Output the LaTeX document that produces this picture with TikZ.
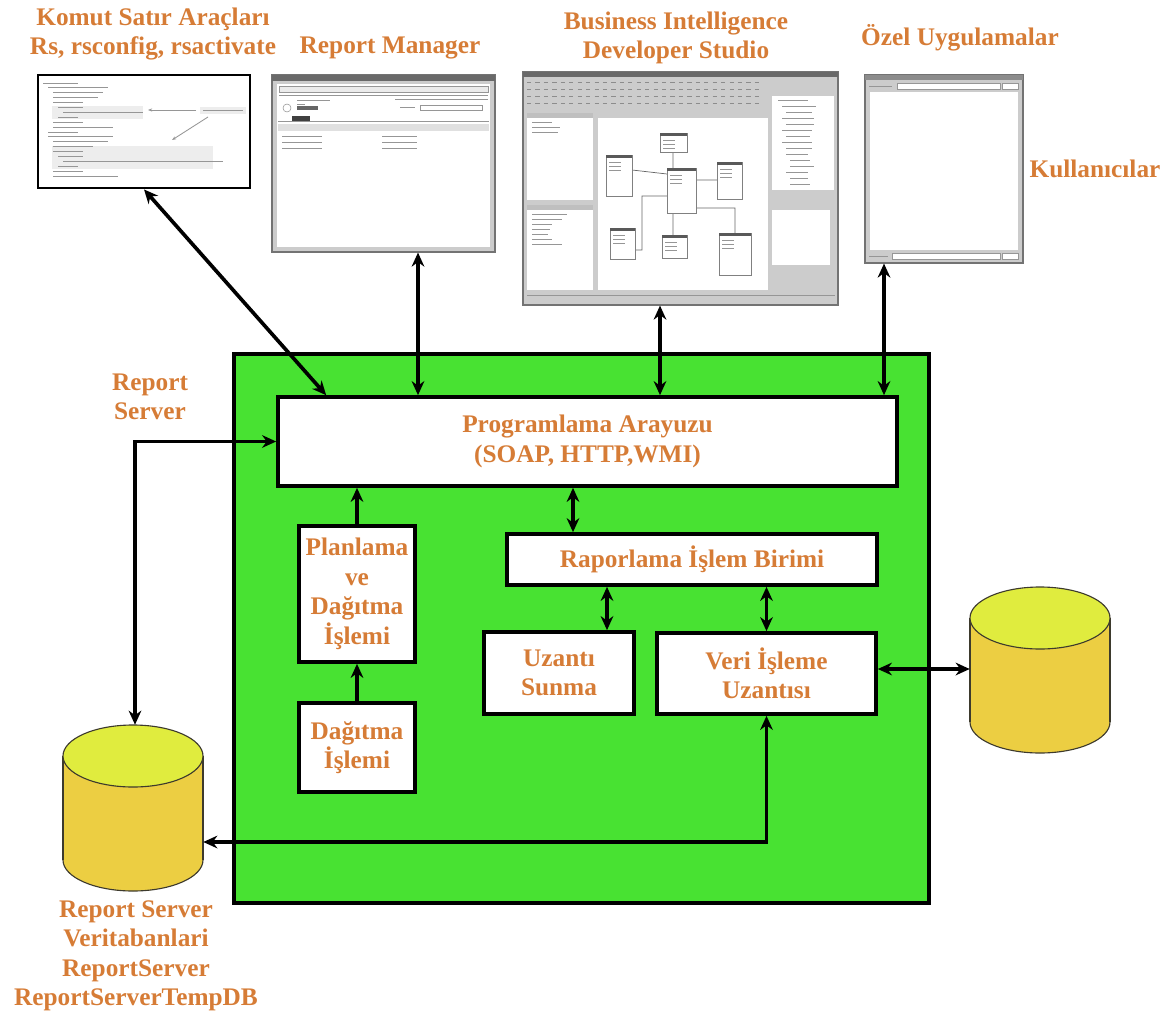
\documentclass[tikz,border=0pt]{standalone}
\usepackage{fontspec}
\setmainfont{Liberation Serif}
\usetikzlibrary{arrows.meta,fit,calc}

\definecolor{turuncu}{RGB}{214,124,54}
\definecolor{yesil}{RGB}{72,226,50}
\definecolor{kapak}{RGB}{224,236,62}
\definecolor{govde}{RGB}{236,206,66}
\definecolor{pencere}{RGB}{204,204,204}
\definecolor{baslik}{RGB}{105,105,105}
\definecolor{satir}{RGB}{150,150,150}

\tikzset{
        etiket/.style={text=turuncu, font=\bfseries\fontsize{18}{21}\selectfont, align=center},
        boyut/.style 2 args={minimum width=#1*0.025cm, minimum height=#2*0.025cm},
        kutu/.style={draw, fill=white, line width=2.6pt, inner sep=0pt, etiket},
        ekran/.style={draw=black!55, fill=pencere, line width=0.8pt, inner sep=0pt},
        ok/.style={line width=2.6pt, >={Stealth[length=10pt,width=9pt]}},
        tablo/.style={draw=black!50, fill=white, line width=0.5pt}
}

\begin{document}
\begin{tikzpicture}[x=0.025cm, y=-0.025cm]

        \useasboundingbox (0,0) rectangle (1171,1019);

        \node [fit={(234,354) (929,903)}, draw, fill=yesil, line width=2.6pt, inner sep=0pt] (rs) {};

        \node [kutu, boyut={619}{89}] (api) at (587.5,441.5) {Programlama Arayuzu\\(SOAP, HTTP,WMI)};
        \node [kutu, boyut={116}{136}] (planlama) at (357,594) {Planlama\\ve\\Dağıtma\\İşlemi};
        \node [kutu, boyut={116}{89}] (dagitma) at (357,747.5) {Dağıtma\\İşlemi};
        \node [kutu, boyut={370}{51}] (raporlama) at (692,559.5) {Raporlama İşlem Birimi};
        \node [kutu, boyut={150}{82}] (uzanti) at (559,673) {Uzantı\\Sunma};
        \node [kutu, boyut={219}{81}] (veri) at (766.5,673.5) {Veri İşleme\\Uzantısı};

        \begin{scope}[draw=black!75!olive, line width=0.8pt]
        \filldraw [fill=govde] (133,860) ellipse [x radius=70, y radius=31];
        \fill [govde] (63,756) rectangle (203,860);
        \draw (63,756) -- (63,860) (203,756) -- (203,860);
        \filldraw [fill=kapak] (133,756) ellipse [x radius=70, y radius=31];

        \filldraw [fill=govde] (1040,722) ellipse [x radius=70, y radius=31];
        \fill [govde] (970,618) rectangle (1110,722);
        \draw (970,618) -- (970,722) (1110,618) -- (1110,722);
        \filldraw [fill=kapak] (1040,618) ellipse [x radius=70, y radius=31];
        \end{scope}
        \node [fit={(67,725) (203,891)}, inner sep=0pt] (rsdb) {};
        \node [fit={(970,587) (1110,753)}, inner sep=0pt] (kaynak) {};

        % komut satiri
        \node [fit={(38,75) (250,188)}, draw, fill=white, line width=2pt, inner sep=0pt] (komut) {};
        \fill [black!7] (52,106) rectangle (143,119);
        \fill [black!7] (52,146) rectangle (213,169);
        \foreach \i/\d/\l in {0/0/35, 1/5/60, 2/10/50, 3/10/45, 4/10/30, 5/15/25, 6/20/80, 7/15/20,
                8/10/30, 9/10/60, 10/5/30, 11/5/65, 12/10/55, 13/10/40, 14/10/30, 15/15/25,
                16/20/160, 17/15/20, 18/10/30, 19/10/65}
                \draw [satir, line width=0.7pt] (43+\d,83+4.9*\i) -- ++(\l,0);
        \fill [black!7] (200,107) rectangle (246,114);
        \draw [satir, line width=0.6pt] (203,110.5) -- (243,110.5);
        \draw [satir, line width=0.6pt, -{Stealth[length=3pt]}] (196,110) -- (148,110);
        \draw [satir, line width=0.6pt, -{Stealth[length=3pt]}] (208,117) -- (172,140);

        % report manager
        \node [ekran, fit={(272,75) (495,252)}] (rmgr) {};
        \fill [baslik] (272,75) rectangle (495,81);
        \fill [white] (277,84) rectangle (490,247);
        \draw [satir, fill=black!8] (279,86) rectangle (488,92);
        \draw [satir] (279,95) -- (488,95) (395,99) -- (488,99);
        \draw [satir] (287,108) circle (4);
        \draw [satir] (297,100) -- (330,100) (297,104) -- (305,104);
        \fill [black!60] (297,106) rectangle (318,110);
        \draw [satir] (420,105) rectangle (482,110) (400,107.5) -- (415,107.5);
        \fill [black!75] (292,116) rectangle (310,121);
        \draw [satir] (278,121) -- (489,121);
        \fill [black!12] (278,124) rectangle (489,131);
        \foreach \y in {136,142,148}
                \draw [satir] (282,\y) -- ++(40,0) (382,\y) -- ++(35,0);

        % business intelligence developer studio
        \node [ekran, fit={(523,72) (838,305)}] (bids) {};
        \fill [baslik] (523,72) rectangle (838,77);
        \foreach \y in {82,89,96,103}
                \draw [black!45, line width=0.6pt, dash pattern=on 3pt off 3pt] (527,\y) -- (760,\y);
        \fill [black!25] (527,113) rectangle (593,118);
        \fill [white] (527,118) rectangle (593,200);
        \fill [black!25] (527,205) rectangle (593,210);
        \fill [white] (527,210) rectangle (593,290);
        \fill [white] (598,118) rectangle (768,290);
        \fill [white] (772,96) rectangle (834,190);
        \fill [white] (772,210) rectangle (830,265);
        \foreach \y/\l in {122/20, 127/28, 132/26}
                \draw [satir] (532,\y) -- ++(\l,0);
        \foreach \y/\l in {214/35, 219/30, 224/20, 229/18, 234/16, 239/20, 244/30}
                \draw [satir] (532,\y) -- ++(\l,0);
        \foreach \y/\d/\l in {100/0/30, 106/4/34, 112/8/26, 118/4/32, 124/8/28, 130/4/30, 136/8/24,
                142/4/30, 148/8/26, 154/8/22, 160/12/20, 166/12/24, 172/8/22, 178/12/18, 184/12/20}
                \draw [satir] (778+\d,\y) -- ++(\l,0);
        \draw [satir] (527,295) -- (835,295);
        \draw [black!60, line width=0.5pt] (632,170) -- (667,174) (673,152) -- (673,168)
                (696,180) -- (717,180) (635,250) -- (642,250) -- (642,196) -- (667,196)
                (673,213) -- (673,235) (696,208) -- (735,208) -- (735,233);
        \foreach \a/\b/\c/\d in {660/133/687/152, 606/155/632/196, 667/168/696/213, 717/162/742/199,
                610/228/635/259, 662/235/687/258, 719/233/751/275} {
                \draw [tablo] (\a,\b) rectangle (\c,\d);
                \fill [black!65] (\a,\b) rectangle (\c,\b+3);
                \foreach \k in {1,2,3}
                        \draw [satir, line width=0.4pt] (\a+3,\b+3+\k*4) -- ++(12,0);
        }

        % ozel uygulamalar
        \node [ekran, fit={(865,75) (1023,263)}] (ozel) {};
        \fill [black!45] (865,75) rectangle (1023,80);
        \fill [white] (870,92) rectangle (1018,250);
        \draw [satir, fill=white] (897,83) rectangle (1000,89) (1002,83) rectangle (1018,89);
        \draw [satir, fill=white] (892,253) rectangle (1000,259) (1002,253) rectangle (1018,259);
        \draw [satir] (869,86) -- (892,86) (869,256) -- (888,256);

        \node [etiket] (lkomut) at (153,34) {Komut Satır Araçları\\Rs, rsconfig, rsactivate};
        \node [etiket] (lrmgr) at (390,48) {Report Manager};
        \node [etiket] (lbids) at (676,38) {Business Intelligence\\Developer Studio};
        \node [etiket] (lozel) at (960,38) {Özel Uygulamalar};
        \node [etiket] (lkul) at (1095,169) {Kullanıcılar};
        \node [etiket] (lrs) at (150,397) {Report\\Server};
        \node [etiket] (lrsdb) at (136,956) {Report Server\\Veritabanlari\\ReportServer\\ReportServerTempDB};

        \begin{scope}[ok]
        \draw [<->] (komut.south) -- ($(api.north west)+(50,0)$);
        \draw [<->] (rmgr.south -| 418,0) -- (api.north -| 418,0);
        \draw [<->] (bids.south -| 660,0) -- (api.north -| 660,0);
        \draw [<->] (ozel.south -| 884,0) -- (api.north -| 884,0);
        \draw [<->] (api.west) -| (rsdb.north);
        \draw [->] (planlama) -- (api.south -| planlama);
        \draw [->] (dagitma) -- (planlama);
        \draw [<->] (api.south -| 573,0) -- (raporlama.north -| 573,0);
        \draw [<->] (raporlama.south -| 607,0) -- (uzanti.north -| 607,0);
        \draw [<->] (raporlama.south -| veri.north) -- (veri.north);
        \draw [<->] (veri.east |- 0,669) -- (kaynak.west |- 0,669);
        \draw [<->] (veri.south) |- (rsdb.east |- 0,842);
        \end{scope}

\end{tikzpicture}
\end{document}
